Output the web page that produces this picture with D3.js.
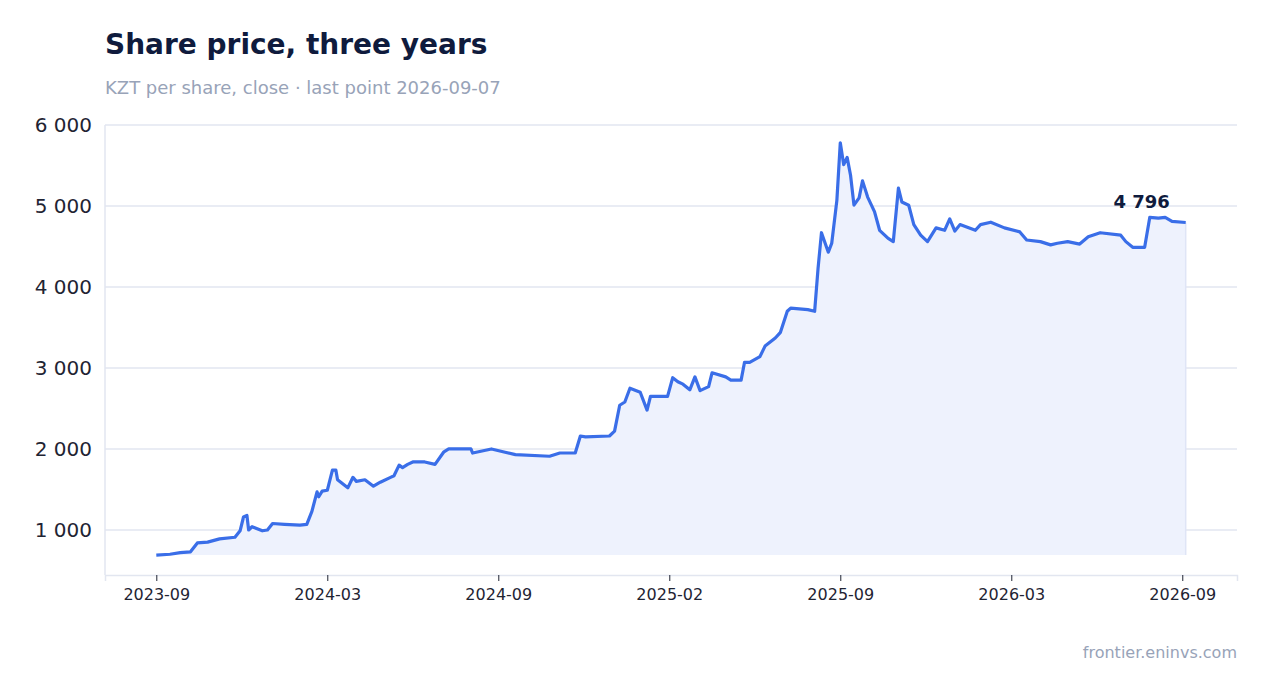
<!DOCTYPE html>
<html>
<head>
<meta charset="utf-8">
<script src="https://cdn.jsdelivr.net/npm/d3@7"></script>
<style>
  body { margin: 0; background: #fff; font-family: "DejaVu Sans", sans-serif; }
</style>
</head>
<body>
<svg id="chart" width="1267" height="693"></svg>
<script>
// trading-session index (100 sessions per tick) and close price
const sessions = [0,8,14,20,24,30,37,46,49,51,53,54,56,62,65,68,75,84,88,91,94,95,97,100,103,105,106,112,115,117,122,127,131,137,139,142,144,147,150,157,163,168,171,184,185,196,204,210,230,236,245,248,251,265,268,271,274,277,283,287,289,299,302,305,308,312,315,318,323,325,333,336,342,344,347,353,356,362,365,369,371,381,385,387,389,393,395,398,400,402,404,406,408,411,413,416,420,423,428,431,434,436,440,443,447,451,456,461,464,467,470,479,482,488,496,505,509,517,523,527,533,540,545,552,564,567,571,578,581,586,590,594,602];
const prices = [690,700,720,730,840,850,890,910,990,1160,1180,1000,1040,990,1000,1080,1070,1060,1070,1230,1470,1410,1480,1490,1740,1740,1620,1520,1650,1600,1620,1540,1590,1650,1670,1800,1770,1810,1840,1840,1810,1960,2000,2000,1950,2000,1960,1930,1910,1950,1950,2160,2150,2160,2220,2540,2580,2750,2700,2480,2650,2650,2880,2830,2800,2730,2890,2720,2770,2940,2890,2850,2850,3070,3070,3140,3270,3370,3440,3700,3740,3720,3700,4230,4670,4430,4540,5070,5780,5510,5600,5380,5010,5100,5310,5110,4930,4700,4600,4560,5220,5050,5010,4770,4640,4560,4730,4700,4840,4690,4770,4700,4770,4800,4730,4680,4580,4560,4520,4540,4560,4530,4620,4670,4640,4560,4490,4490,4860,4850,4860,4810,4796];
const tickSessions = [0,100,200,300,400,500,600];
const tickLabels = ["2023-09","2024-03","2024-09","2025-02","2025-09","2026-03","2026-09"];
const yTicks = [1000,2000,3000,4000,5000,6000];
const lastLabel = "4 796";

const svg = d3.select("#chart");
const mLeft = 105, mRight = 1237, mTop = 125, mBottom = 575;

const x = d3.scaleLinear().domain([-30, 632]).range([mLeft, mRight]);
const y = d3.scaleLinear().domain([444, 6000]).range([mBottom, mTop]);

const data = sessions.map((s, i) => ({ s, v: prices[i] }));

// grid
svg.append("g").selectAll("line").data(yTicks).join("line")
  .attr("x1", mLeft).attr("x2", mRight)
  .attr("y1", d => y(d)).attr("y2", d => y(d))
  .attr("stroke", "#e2e6f0").attr("stroke-width", 1.5);

svg.append("g").selectAll("text").data(yTicks).join("text")
  .attr("x", 92).attr("y", d => y(d)).attr("dy", "0.35em")
  .attr("text-anchor", "end").attr("font-size", 20).attr("fill", "#1f2433")
  .text(d => d3.format(",")(d).replace(/,/g, " "));

svg.append("line").attr("x1", mLeft).attr("x2", mLeft).attr("y1", mTop).attr("y2", mBottom)
  .attr("stroke", "#e2e6f0").attr("stroke-width", 1.5);

// x axis
const xAxis = svg.append("g").attr("transform", `translate(0,${mBottom})`)
  .call(d3.axisBottom(x).tickValues(tickSessions).tickFormat((d, i) => tickLabels[i]).tickSize(6).tickPadding(8));
xAxis.select(".domain").attr("stroke", "#e2e6f0").attr("stroke-width", 1.5);
xAxis.selectAll(".tick line").attr("stroke", "#1f2433");
xAxis.selectAll("text").attr("font-size", 16).attr("fill", "#1f2433").attr("font-family", "DejaVu Sans");

// area + line
const base = d3.min(prices);
svg.append("path").datum(data)
  .attr("d", d3.area().x(d => x(d.s)).y0(y(base)).y1(d => y(d.v)))
  .attr("fill", "#eef2fd").attr("stroke", "none");
const last = data[data.length - 1];
svg.append("line").attr("x1", x(last.s)).attr("x2", x(last.s))
  .attr("y1", y(last.v)).attr("y2", y(base)).attr("stroke", "#dfe5f6").attr("stroke-width", 1.5);
svg.append("path").datum(data)
  .attr("d", d3.line().x(d => x(d.s)).y(d => y(d.v)))
  .attr("fill", "none").attr("stroke", "#3a6ee8").attr("stroke-width", 3.2)
  .attr("stroke-linejoin", "round");

svg.append("text").attr("x", x(last.s) - 44).attr("y", y(last.v) - 15)
  .attr("text-anchor", "middle").attr("font-size", 18).attr("font-weight", "bold")
  .attr("fill", "#0f1b3d").text(lastLabel);

// titles
svg.append("text").attr("x", 105).attr("y", 54).attr("font-size", 28).attr("font-weight", "bold")
  .attr("fill", "#0f1b3d").text("Share price, three years");
svg.append("text").attr("x", 105).attr("y", 94).attr("font-size", 18)
  .attr("fill", "#98a3b8").text("KZT per share, close · last point 2026-09-07");
svg.append("text").attr("x", 1237).attr("y", 658).attr("text-anchor", "end").attr("font-size", 16)
  .attr("fill", "#98a3b8").text("frontier.eninvs.com");
</script>
</body>
</html>
